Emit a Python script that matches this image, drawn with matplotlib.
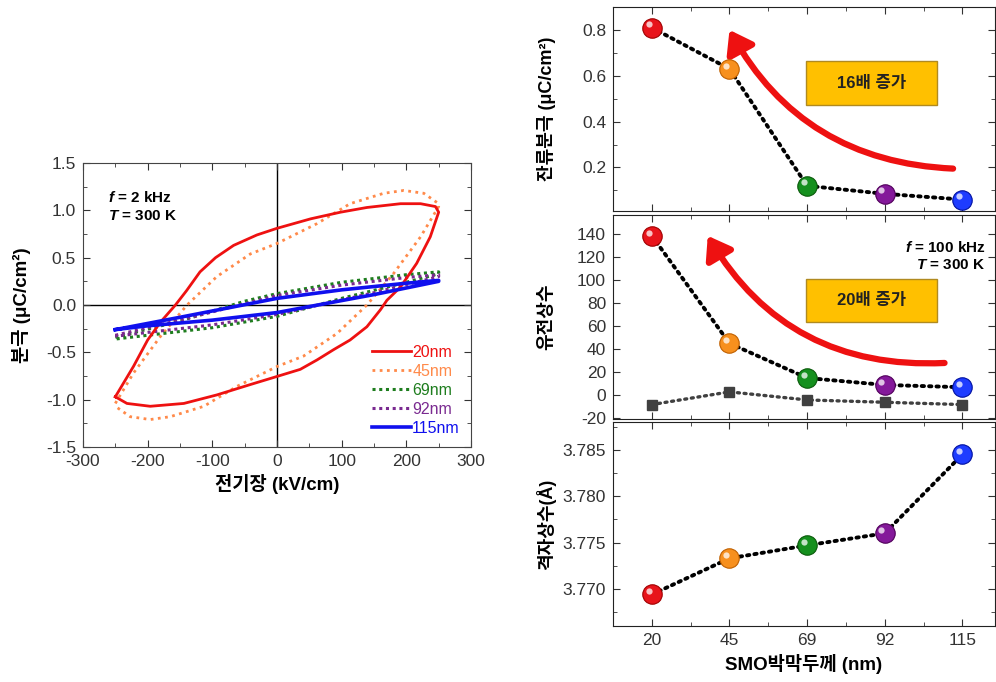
import numpy as np
import matplotlib
matplotlib.use("Agg")
import matplotlib.pyplot as plt
from matplotlib.patches import FancyArrowPatch, Rectangle
from matplotlib.transforms import offset_copy

plt.rcParams["font.family"] = ["Liberation Sans", "Noto Sans CJK KR"]
plt.rcParams["mathtext.fontset"] = "custom"
plt.rcParams["mathtext.it"] = "Liberation Sans:italic:bold"
plt.rcParams["mathtext.rm"] = "Liberation Sans:bold"
plt.rcParams["axes.unicode_minus"] = False

# ---- P-E loops ----
e20 = [-250, -222, -200, -180, -157, -140, -119, -95, -67, -31, 0, 52, 98, 139, 191, 222, 245, 250,
       237, 216, 191, 170, 160, 139, 113, 88, 62, 36, 0, -41, -93, -144, -196, -232, -250]
p20 = [-0.97, -0.65, -0.37, -0.18, 0.0, 0.15, 0.35, 0.50, 0.63, 0.74, 0.81, 0.91, 0.98, 1.03, 1.07, 1.07, 1.04, 0.98,
       0.72, 0.44, 0.19, 0.05, -0.05, -0.23, -0.37, -0.47, -0.58, -0.68, -0.755, -0.84, -0.95, -1.04, -1.07, -1.04, -0.97]
e45 = [-250, -222, -180, -139, -93, -41, 0, 62, 113, 165, 196, 227, 250,
       250, 222, 180, 139, 93, 41, 0, -62, -113, -165, -196, -227, -250]
p45 = [-1.04, -0.72, -0.33, 0.0, 0.30, 0.54, 0.65, 0.86, 1.07, 1.18, 1.21, 1.18, 1.07,
       1.04, 0.72, 0.33, 0.0, -0.30, -0.54, -0.65, -0.86, -1.07, -1.18, -1.21, -1.18, -1.07]
e69 = [-250, -150, -50, 0, 100, 200, 250, 250, 200, 100, 0, -100, -200, -250]
p69 = [-0.34, -0.17, 0.04, 0.12, 0.24, 0.32, 0.35, 0.33, 0.24, 0.07, -0.12, -0.24, -0.32, -0.36]
e92 = [-250, -150, 0, 100, 200, 250, 250, 150, 0, -100, -200, -250]
p92 = [-0.32, -0.16, 0.10, 0.21, 0.29, 0.32, 0.30, 0.13, -0.10, -0.21, -0.29, -0.33]
e115 = [-250, -150, 0, 100, 200, 250, 250, 150, 0, -100, -200, -250]
p115 = [-0.26, -0.13, 0.07, 0.16, 0.23, 0.26, 0.25, 0.11, -0.08, -0.16, -0.22, -0.26]

# ---- thickness dependence ----
thick = ["20", "45", "69", "92", "115"]
remnant = [0.81, 0.63, 0.12, 0.085, 0.06]
eps_r = [138, 45, 15, 9, 7]
loss = [-8, 3, -4, -6, -8]
lattice = [3.7694, 3.7733, 3.7747, 3.7760, 3.7845]

BALL = ["#e8141b", "#f7901e", "#15901e", "#84199a", "#1e3cff"]
EDGE = ["#a00000", "#c06000", "#0a5a0a", "#50005a", "#0010a0"]

fig = plt.figure(figsize=(9.96, 6.82), dpi=100)

# ---------------- left: hysteresis ----------------
ax = fig.add_axes([0.0833, 0.3446, 0.3896, 0.4164])
ax.axhline(0, color="black", lw=1, zorder=1)
ax.axvline(0, color="black", lw=1, zorder=1)
ax.plot(e20, p20, color="#ee1111", lw=2, label="20nm", zorder=3)
ax.plot(e45, p45, color="#ff8a4a", lw=2, ls=(0, (1, 1.6)), label="45nm", zorder=2)
ax.plot(e69, p69, color="#1e7d1e", lw=2.2, ls=(0, (1, 1.2)), label="69nm", zorder=2)
ax.plot(e92, p92, color="#7a2a90", lw=2.2, ls=(0, (1, 1.2)), label="92nm", zorder=2)
ax.plot(e115, p115, color="#1010ee", lw=2.6, label="115nm", zorder=4)
ax.set_xlim(-300, 300); ax.set_ylim(-1.5, 1.5)
ax.set_xticks(np.arange(-300, 301, 100)); ax.set_yticks(np.arange(-1.5, 1.51, 0.5))
ax.set_xticks(np.arange(-250, 300, 100), minor=True)
ax.set_yticks(np.arange(-1.25, 1.5, 0.5), minor=True)
ax.set_yticklabels([f"{v:.1f}" for v in np.arange(-1.5, 1.51, 0.5)])
ax.tick_params(which="both", direction="in", top=True, right=True, labelsize=12.5, colors="#333333")
ax.tick_params(which="major", length=5, pad=5); ax.tick_params(which="minor", length=3)
for s in ax.spines.values():
    s.set_color("#444444")
ax.set_xlabel("전기장 (kV/cm)", fontsize=13.5, fontweight="bold", labelpad=4)
ax.set_ylabel("분극 (μC/cm²)", fontsize=13.5, fontweight="bold")
ax.yaxis.set_label_coords(-0.135, 0.5)
ax.text(0.064, 0.905, "$f$ = 2 kHz\n$T$ = 300 K", transform=ax.transAxes, fontsize=11,
        fontweight="bold", va="top", linespacing=1.35)
leg = ax.legend(loc="lower right", frameon=False, fontsize=11.5, handlelength=2.4,
                handletextpad=0.1, labelspacing=0.25, borderaxespad=0.3, labelcolor="linecolor")


# ---------------- right panels ----------------
x = np.arange(len(thick))


def panel(rect):
    a = fig.add_axes(rect)
    a.set_xlim(-0.5, 4.42)
    a.set_xticks(x)
    a.set_xticks(x[:-1] + 0.5, minor=True)
    a.tick_params(which="both", direction="in", top=True, right=True, labelsize=12.5, colors="#333333")
    a.tick_params(which="major", length=5, pad=5); a.tick_params(which="minor", length=3)
    for s in a.spines.values():
        s.set_color("#222222")
    return a


def balls(a, y):
    a.plot(x, y, color="black", lw=2.8, ls=(0, (0.6, 1.3)), dash_capstyle="round", zorder=2)
    hl = offset_copy(a.transData, fig=fig, x=-2.4, y=2.4, units="points")
    for xi, yi, c, e in zip(x, y, BALL, EDGE):
        a.plot(xi, yi, "o", ms=14, color=c, mec=e, mew=0.8, zorder=4)
        a.plot(xi, yi, "o", ms=4.5, color="white", alpha=0.75, mew=0, zorder=5, transform=hl)


def badge(a, x0, y0, w, h, txt):
    a.add_patch(Rectangle((x0, y0), w, h, transform=a.transAxes, facecolor="#ffc000",
                          edgecolor="#b08a20", lw=1, zorder=3))
    a.text(x0 + w / 2, y0 + h / 2, txt, transform=a.transAxes, ha="center", va="center",
           fontsize=12, fontweight="bold", color="#222222", zorder=4)


def red_arrow(a, tail, head, rad):
    a.add_patch(FancyArrowPatch(tail, head, connectionstyle=f"arc3,rad={rad}",
                                arrowstyle="-|>,head_width=0.42,head_length=0.6", mutation_scale=22,
                                color="#ee1111", lw=4.5, zorder=3, shrinkA=0, shrinkB=0))


# top: remnant polarization
a1 = panel([0.6155, 0.6906, 0.3835, 0.2991])
balls(a1, remnant)
a1.set_ylim(0.01, 0.9)
a1.set_yticks([0.2, 0.4, 0.6, 0.8])
a1.set_yticks([0.1, 0.3, 0.5, 0.7], minor=True)
a1.set_xticklabels([])
a1.set_ylabel("잔류분극 (μC/cm²)", fontsize=13, fontweight="bold")
a1.yaxis.set_label_coords(-0.15, 0.5)
red_arrow(a1, (3.88, 0.195), (1.0, 0.8), -0.28)
badge(a1, 0.506, 0.52, 0.343, 0.215, "16배 증가")

# middle: dielectric constant
a2 = panel([0.6155, 0.3856, 0.3835, 0.2991])
a2.plot(x, loss, "s", color="#404040", ms=7, ls=(0, (0.6, 1.4)), lw=2.4, dash_capstyle="round", zorder=2)
balls(a2, eps_r)
a2.set_ylim(-20.5, 156)
a2.set_yticks(np.arange(-20, 141, 20))
a2.set_xticklabels([])
a2.set_ylabel("유전상수", fontsize=13, fontweight="bold")
a2.yaxis.set_label_coords(-0.15, 0.5)
red_arrow(a2, (3.77, 28), (0.72, 138), -0.3)
badge(a2, 0.506, 0.475, 0.343, 0.21, "20배 증가")
a2.text(0.975, 0.88, "$f$ = 100 kHz\n$T$ = 300 K", transform=a2.transAxes, ha="right", va="top",
        fontsize=11, fontweight="bold", linespacing=1.35)

# bottom: lattice parameter
a3 = panel([0.6155, 0.0821, 0.3835, 0.2991])
balls(a3, lattice)
a3.set_ylim(3.766, 3.788)
a3.set_yticks([3.770, 3.775, 3.780, 3.785])
a3.set_yticks([3.7675, 3.7725, 3.7775, 3.7825, 3.7875], minor=True)
a3.set_yticklabels(["3.770", "3.775", "3.780", "3.785"])
a3.set_xticklabels(thick)
a3.set_xlabel("SMO박막두께 (nm)", fontsize=13.5, fontweight="bold", labelpad=4)
a3.set_ylabel("격자상수(Å)", fontsize=13, fontweight="bold")
a3.yaxis.set_label_coords(-0.15, 0.5)

fig.savefig("out.png", dpi=100)
